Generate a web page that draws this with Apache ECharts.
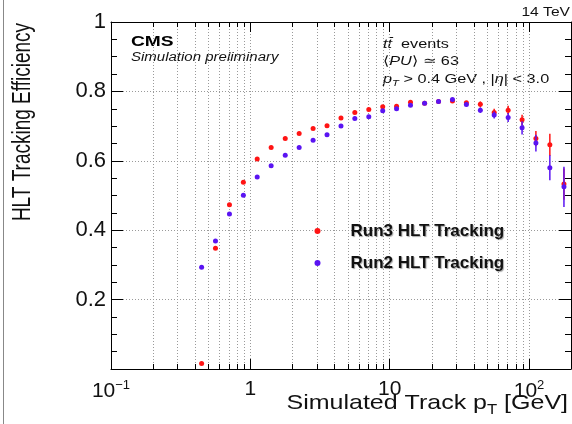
<!DOCTYPE html>
<html><head><meta charset="utf-8">
<script src="https://cdn.jsdelivr.net/npm/echarts@6/dist/echarts.min.js"></script>
<style>html,body{margin:0;padding:0;background:#fff}#c{width:572px;height:424px}</style>
</head><body><div id="c"></div>
<script>
// ---- data ----
const ptBins = [0.447, 0.562, 0.708, 0.891, 1.12, 1.41, 1.78, 2.24, 2.82, 3.55, 4.47, 5.62, 7.08, 8.91, 11.2, 14.1, 17.8, 22.4, 28.2, 35.5, 44.7, 56.2, 70.8, 89.1, 112, 141, 178];
const run3Eff = [0.016, 0.348, 0.473, 0.538, 0.605, 0.638, 0.664, 0.679, 0.693, 0.701, 0.723, 0.739, 0.748, 0.756, 0.757, 0.769, 0.766, 0.771, 0.772, 0.767, 0.763, 0.739, 0.746, 0.718, 0.664, 0.646, 0.533];
const run2Eff = [0.293, 0.369, 0.447, 0.501, 0.553, 0.586, 0.616, 0.638, 0.659, 0.675, 0.700, 0.722, 0.727, 0.744, 0.750, 0.760, 0.766, 0.771, 0.777, 0.762, 0.746, 0.732, 0.725, 0.695, 0.651, 0.580, 0.525];
const run3Err = [0.001, 0.001, 0.001, 0.001, 0.001, 0.001, 0.001, 0.001, 0.001, 0.001, 0.001, 0.001, 0.002, 0.002, 0.002, 0.003, 0.003, 0.004, 0.004, 0.005, 0.008, 0.011, 0.0125, 0.015, 0.022, 0.032, 0.045];
const run2Err = [0.001, 0.001, 0.001, 0.001, 0.001, 0.001, 0.001, 0.001, 0.001, 0.001, 0.001, 0.001, 0.002, 0.002, 0.002, 0.003, 0.003, 0.004, 0.004, 0.005, 0.008, 0.010, 0.013, 0.019, 0.024, 0.036, 0.058];
const xMinorTicks = [0.2, 0.3, 0.4, 0.5, 0.6, 0.7, 0.8, 0.9, 2, 3, 4, 5, 6, 7, 8, 9, 20, 30, 40, 50, 60, 70, 80, 90];
const seriesNames = ['Run3 HLT Tracking', 'Run2 HLT Tracking'];

const RED = '#ff1414', BLUE = '#5a14f2';
const FONT = '"Liberation Sans", Arial, Helvetica, sans-serif';

function logLabel(v) {
  const l = Math.log10(v);
  const e = Math.round(l);
  if (Math.abs(l - e) > 1e-6) return '';
  if (e === 0) return '1';
  if (e === 1) return '10';
  return '10{sup|' + (e < 0 ? '\u2212' + (-e) : e) + '}';
}

function errRender(params, api) {
  const x = api.value(0), y = api.value(1), e = api.value(2);
  const p1 = api.coord([x, y - e]), p2 = api.coord([x, y + e]);
  return {type: 'line', shape: {x1: p1[0], y1: p1[1], x2: p2[0], y2: p2[1]},
    style: {stroke: api.visual('color'), lineWidth: 1.5}};
}

function minorRender(params, api) {
  const v = api.value(0);
  const b = api.coord([v, 0]), t = api.coord([v, 1]);
  const x = Math.round(b[0]) + 0.5;
  return {type: 'group', children: [
    {type: 'line', shape: {x1: x, y1: b[1], x2: x, y2: t[1]}, style: {stroke: '#9a9a9a', lineWidth: 1, lineDash: [1, 2]}},
    {type: 'line', shape: {x1: x, y1: b[1], x2: x, y2: b[1] - 5}, style: {stroke: '#000', lineWidth: 1}},
    {type: 'line', shape: {x1: x, y1: t[1], x2: x, y2: t[1] + 5}, style: {stroke: '#000', lineWidth: 1}}
  ]};
}

const chart = echarts.init(document.getElementById('c'));

const xBase = {
  type: 'log', logBase: 10, min: 0.1, max: 200,
  axisLine: {show: true, onZero: false, lineStyle: {color: '#000', width: 1}},
  axisTick: {show: true, inside: true, length: 10, lineStyle: {color: '#000'}},
};
const yBase = {
  type: 'value', min: 0, max: 1, interval: 0.2,
  axisLine: {show: true, onZero: false, lineStyle: {color: '#000', width: 1}},
  axisTick: {show: true, inside: true, length: 12, lineStyle: {color: '#000'}},
  minorTick: {show: true, splitNumber: 4, length: 6, lineStyle: {color: '#000'}},
};

const option = {
  backgroundColor: '#fff',
  animation: false,
  grid: {left: 111, right: 1, top: 22, bottom: 55, containLabel: false},
  xAxis: [
    Object.assign({}, xBase, {
      position: 'bottom',
      axisLabel: {formatter: logLabel, fontSize: 21, color: '#111', fontFamily: FONT, margin: 10,
        showMaxLabel: false,
        rich: {sup: {fontSize: 13, color: '#111', fontFamily: FONT, padding: [0, 0, 12, 0]}}},
      splitLine: {show: true, lineStyle: {color: '#9a9a9a', type: [1, 2], width: 1}}
    }),
    Object.assign({}, xBase, {
      position: 'top',
      axisLabel: {show: false},
      splitLine: {show: false}
    })
  ],
  yAxis: [
    Object.assign({}, yBase, {
      position: 'left',
      axisLabel: {formatter: v => (v === 0 ? '' : String(v)), fontSize: 22, color: '#111', fontFamily: FONT, margin: 5},
      splitLine: {show: true, lineStyle: {color: '#9a9a9a', type: [1, 2], width: 1}}
    }),
    Object.assign({}, yBase, {
      position: 'right',
      axisLabel: {show: false},
      splitLine: {show: false}
    })
  ],
  legend: {
    data: seriesNames, orient: 'vertical', left: 314.5, top: 221, padding: 0,
    itemGap: 12, itemWidth: 6, itemHeight: 6, icon: 'circle',
    textStyle: {fontSize: 17, fontWeight: 'bold', color: '#111', fontFamily: FONT,
      padding: [0, 0, 0, 25], lineHeight: 20,
      textShadowColor: 'rgba(0,0,0,0.35)', textShadowBlur: 1, textShadowOffsetX: 1, textShadowOffsetY: 1}
  },
  series: [
    {type: 'custom', name: 'minorGrid', silent: true, z: 1, xAxisIndex: 0, yAxisIndex: 0,
      data: xMinorTicks.map(v => [v, 0]), renderItem: minorRender},
    {type: 'custom', name: 'run3err', silent: true, z: 3, itemStyle: {color: RED},
      data: ptBins.map((x, i) => [x, run3Eff[i], run3Err[i]]), renderItem: errRender},
    {type: 'scatter', name: seriesNames[0], z: 4, symbol: 'circle', symbolSize: 5,
      itemStyle: {color: RED, opacity: 1}, data: ptBins.map((x, i) => [x, run3Eff[i]])},
    {type: 'custom', name: 'run2err', silent: true, z: 5, itemStyle: {color: BLUE},
      data: ptBins.map((x, i) => [x, run2Eff[i], run2Err[i]]), renderItem: errRender},
    {type: 'scatter', name: seriesNames[1], z: 6, symbol: 'circle', symbolSize: 5,
      itemStyle: {color: BLUE, opacity: 1}, data: ptBins.map((x, i) => [x, run2Eff[i]])}
  ],
  graphic: [
    {type: 'line', shape: {x1: 3.5, y1: 0, x2: 3.5, y2: 424}, style: {stroke: '#888', lineWidth: 1}, silent: true},
    {type: 'text', x: 23, y: 122, rotation: Math.PI / 2, scaleX: 0.905, scaleY: 1.25, silent: true,
      style: {text: 'HLT Tracking Efficiency', fontSize: 21, fontFamily: FONT, fill: '#111', align: 'center', verticalAlign: 'middle'}},
    {type: 'text', x: 568, y: 403, scaleX: 1.19, silent: true,
      style: {text: 'Simulated Track p{sub|T} [GeV]', fontSize: 21, fontFamily: FONT, fill: '#111', align: 'right', verticalAlign: 'middle',
        rich: {sub: {fontSize: 14, fontFamily: FONT, fill: '#111', padding: [14, 0, 0, 0]}}}},
    {type: 'text', x: 131, y: 41.5, scaleX: 1.28, silent: true,
      style: {text: 'CMS', fontSize: 15, fontWeight: 'bold', fontFamily: FONT, fill: '#000', align: 'left', verticalAlign: 'middle'}},
    {type: 'text', x: 131, y: 58, scaleX: 1.25, silent: true,
      style: {text: 'Simulation preliminary', fontSize: 12, fontStyle: 'italic', fontFamily: FONT, fill: '#111', align: 'left', verticalAlign: 'middle'}},
    {type: 'text', x: 570, y: 13, scaleX: 1.3, silent: true,
      style: {text: '14 TeV', fontSize: 12, fontFamily: FONT, fill: '#111', align: 'right', verticalAlign: 'middle'}},
    {type: 'text', x: 383, y: 44, scaleX: 1.25, silent: true,
      style: {text: '{i|tt\u0304}  events', fontSize: 13, fontFamily: FONT, fill: '#111', align: 'left', verticalAlign: 'middle',
        rich: {i: {fontStyle: 'italic', fontSize: 13, fontFamily: FONT, fill: '#111'}}}},
    {type: 'text', x: 383, y: 61.5, scaleX: 1.25, silent: true,
      style: {text: '\u27E8{i|PU}\u27E9 \u2243 63', fontSize: 13, fontFamily: FONT, fill: '#111', align: 'left', verticalAlign: 'middle',
        rich: {i: {fontStyle: 'italic', fontSize: 13, fontFamily: FONT, fill: '#111'}}}},
    {type: 'text', x: 383, y: 79, scaleX: 1.25, silent: true,
      style: {text: '{i|p}{sub|T} > 0.4 GeV , |{i|\u03B7}| < 3.0', fontSize: 13, fontFamily: FONT, fill: '#111', align: 'left', verticalAlign: 'middle',
        rich: {i: {fontStyle: 'italic', fontSize: 13, fontFamily: FONT, fill: '#111'},
               sub: {fontStyle: 'italic', fontSize: 9, fontFamily: FONT, fill: '#111', padding: [8, 0, 0, 0]}}}}
  ]
};
chart.setOption(option);
</script>
</body></html>
